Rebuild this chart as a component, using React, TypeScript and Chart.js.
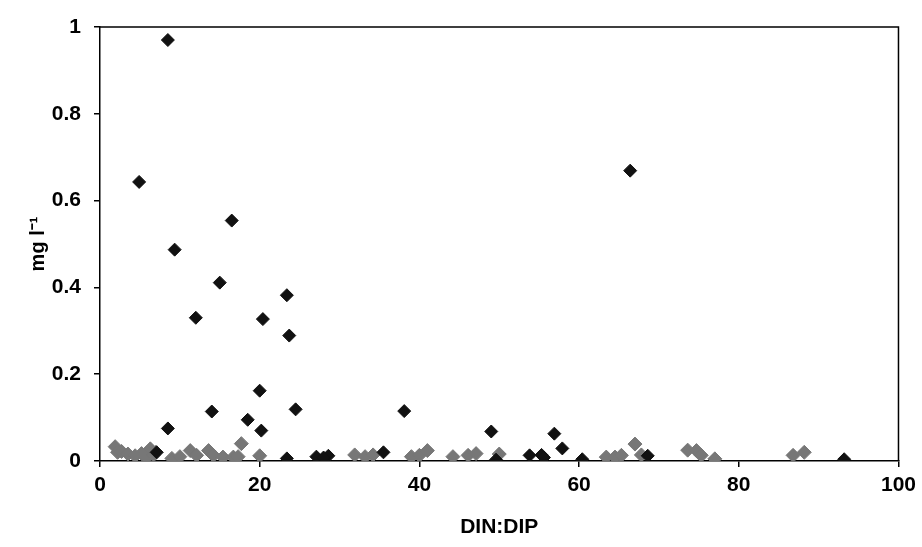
import React, { useEffect, useRef } from "react";
import { Chart, registerables } from "chart.js";

Chart.register(...registerables);

// Black series (DIN:DIP vs mg l-1)
const blackX = [8.5, 4.9, 9.35, 16.5, 15.0, 23.4, 12.0, 20.4, 23.7, 20.0, 14.0, 24.5, 18.5, 8.5, 20.2, 23.4, 27.1, 28.6, 28.0, 7.1, 38.1, 49.0, 56.9, 57.9, 53.8, 55.3, 55.6, 60.4, 35.5, 49.6, 66.4, 93.2, 68.6];
const blackY = [0.97, 0.643, 0.487, 0.554, 0.411, 0.382, 0.33, 0.327, 0.289, 0.162, 0.114, 0.119, 0.095, 0.075, 0.07, 0.006, 0.01, 0.012, 0.008, 0.02, 0.115, 0.068, 0.063, 0.029, 0.013, 0.014, 0.008, 0.004, 0.02, 0.003, 0.669, 0.004, 0.012];

// Gray series
const grayX = [1.9, 2.2, 2.7, 3.5, 4.4, 5.2, 5.8, 6.3, 6.7, 7.0, 9.0, 10.0, 11.3, 12.1, 13.6, 14.2, 15.4, 16.7, 17.7, 17.3, 20.0, 31.9, 33.2, 34.2, 39.0, 40.0, 41.0, 44.2, 46.1, 47.1, 50.0, 63.4, 64.5, 65.3, 67.0, 67.8, 73.6, 74.7, 75.3, 77.0, 86.8, 88.2];
const grayY = [0.033, 0.02, 0.022, 0.016, 0.012, 0.017, 0.008, 0.028, 0.014, 0.02, 0.006, 0.01, 0.024, 0.013, 0.024, 0.013, 0.009, 0.009, 0.04, 0.01, 0.012, 0.014, 0.01, 0.014, 0.01, 0.013, 0.024, 0.01, 0.013, 0.017, 0.016, 0.009, 0.009, 0.013, 0.039, 0.014, 0.025, 0.024, 0.013, 0.005, 0.013, 0.02];

const xTitle = "DIN:DIP";
const yTitle = "mg l\u207B\u00B9";

const FONT = "'Liberation Sans', Arial, sans-serif";

const frame = {
  id: "frame",
  afterDraw(chart: any) {
    const { ctx, chartArea } = chart;
    ctx.save();
    ctx.strokeStyle = "#000";
    ctx.lineWidth = 1.5;
    ctx.beginPath();
    ctx.moveTo(chartArea.left, chartArea.top);
    ctx.lineTo(chartArea.right, chartArea.top);
    ctx.lineTo(chartArea.right, chartArea.bottom);
    ctx.stroke();
    ctx.restore();
  },
};

export default function App() {
  const ref = useRef<HTMLCanvasElement>(null);
  useEffect(() => {
    const chart = new Chart(ref.current!, {
      type: "scatter",
      data: {
        datasets: [
          {
            label: "black",
            data: blackX.map((x, i) => ({ x, y: blackY[i] })),
            pointStyle: "rectRot",
            pointRadius: 6.5,
            backgroundColor: "#111",
            borderColor: "#111",
            borderWidth: 1,
          },
          {
            label: "gray",
            data: grayX.map((x, i) => ({ x, y: grayY[i] })),
            pointStyle: "rectRot",
            pointRadius: 7,
            backgroundColor: "#777",
            borderColor: "#777",
            borderWidth: 1,
          },
        ],
      },
      options: {
        animation: false,
        responsive: false,
        layout: { padding: { top: 27, right: 23, left: 0, bottom: 0 } },
        plugins: { legend: { display: false }, tooltip: { enabled: false } },
        scales: {
          x: {
            type: "linear",
            min: 0,
            max: 100,
            afterFit: (s: any) => { s.height = 86; },
            ticks: { stepSize: 20, color: "#000", padding: 6, font: { family: FONT, size: 21, weight: "bold" } },
            grid: { drawOnChartArea: false, drawTicks: true, tickLength: 6, color: "#000", lineWidth: 1.5 },
            border: { display: true, color: "#000", width: 1.5 },
            title: { display: true, text: xTitle, color: "#000", padding: { top: 0, bottom: 9 }, font: { family: FONT, size: 21, weight: "bold", lineHeight: 1 } },
          },
          y: {
            type: "linear",
            min: 0,
            max: 1,
            afterFit: (s: any) => { s.width = 100; },
            ticks: {
              stepSize: 0.2,
              color: "#000",
              padding: 13,
              font: { family: FONT, size: 21, weight: "bold" },
              callback: (v: any) => String(Number(Number(v).toFixed(1))),
            },
            grid: { drawOnChartArea: false, drawTicks: true, tickLength: 6, color: "#000", lineWidth: 1.5 },
            border: { display: true, color: "#000", width: 1.5 },
            title: { display: true, text: yTitle, color: "#000", padding: { top: 26, bottom: 0 }, font: { family: FONT, size: 20, weight: "bold", lineHeight: 1.2 } },
          },
        },
      },
      plugins: [frame],
    });
    return () => chart.destroy();
  }, []);
  return (
    <div style={{ position: "absolute", left: 0, top: 0, width: 922, height: 547, background: "#fff" }}>
      <canvas ref={ref} width={922} height={547} style={{ display: "block" }} />
    </div>
  );
}
